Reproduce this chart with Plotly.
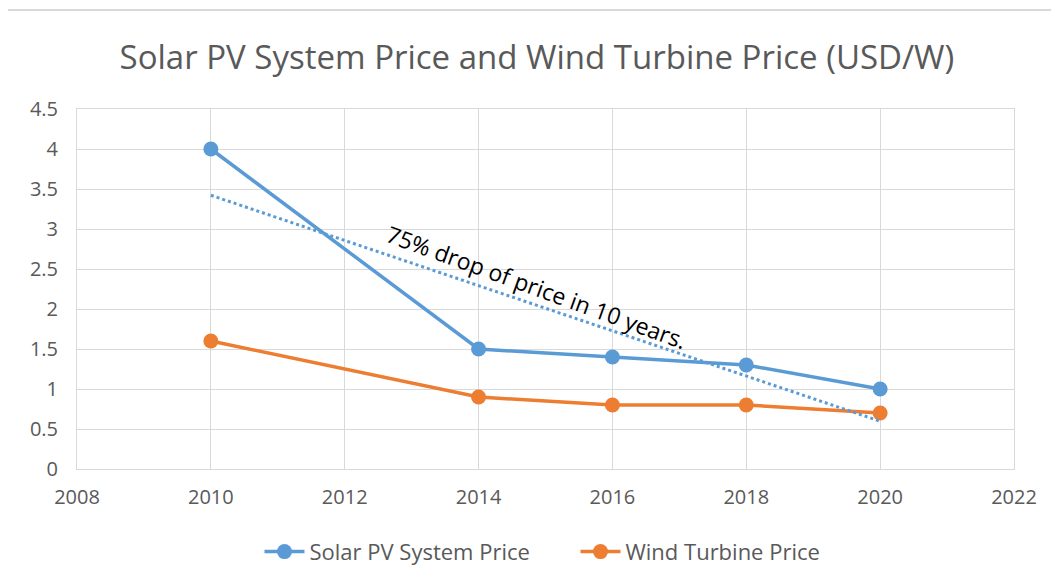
import numpy as np
import plotly.graph_objects as go

# données
years = [2010, 2014, 2016, 2018, 2020]
solar_price = [4.0, 1.5, 1.4, 1.3, 1.0]
wind_price = [1.6, 0.9, 0.8, 0.8, 0.7]
note = "75% drop of price in 10 years."

BLUE = "#5B9BD5"
ORANGE = "#ED7D31"
GREY = "#595959"

# tendance linéaire (comme la courbe de tendance Excel)
slope, intercept = np.polyfit(years, solar_price, 1)
trend_x = [years[0], years[-1]]
trend_y = [slope * x + intercept for x in trend_x]

fig = go.Figure()

fig.add_trace(go.Scatter(
    x=years, y=solar_price, mode="lines+markers", name="Solar PV System Price",
    line=dict(color=BLUE, width=3.5), marker=dict(size=15, color=BLUE),
))
fig.add_trace(go.Scatter(
    x=years, y=wind_price, mode="lines+markers", name="Wind Turbine Price",
    line=dict(color=ORANGE, width=3.5), marker=dict(size=15, color=ORANGE),
))
fig.add_trace(go.Scatter(
    x=trend_x, y=trend_y, mode="lines", showlegend=False, hoverinfo="skip",
    line=dict(color=BLUE, width=3, dash="dot"),
))

fig.add_annotation(
    x=2014.87, y=2.27, xref="x", yref="y", text=note, showarrow=False,
    textangle=20, font=dict(family="Open Sans", size=23, color="black"),
)

# cadre gris autour du graphique (coordonnées de l'écran -> paper)
fig.add_shape(type="rect", xref="paper", yref="paper",
              x0=(7 - 77) / 937, x1=(1080 - 77) / 937,
              y0=(469 - 610) / 360, y1=(469 - 10) / 360,
              line=dict(color="#D9D9D9", width=2), layer="below")

fig.update_layout(
    width=1059, height=586,
    margin=dict(l=69, r=53, t=101, b=125),
    paper_bgcolor="white", plot_bgcolor="white",
    font=dict(family="Open Sans", color=GREY),
    title=dict(text="Solar PV System Price and Wind Turbine Price (USD/W)",
               x=0.4995, xanchor="center", y=0.916, yanchor="middle",
               font=dict(family="Open Sans", size=33, color=GREY)),
    xaxis=dict(range=[2008, 2022], tickvals=list(range(2008, 2023, 2)),
               showgrid=True, gridcolor="#D9D9D9", gridwidth=1,
               showline=True, linecolor="#D9D9D9", mirror=True,
               zeroline=False, ticks="", ticklabelstandoff=10,
               tickfont=dict(size=20, color=GREY)),
    yaxis=dict(range=[0, 4.5], dtick=0.5,
               showgrid=True, gridcolor="#D9D9D9", gridwidth=1,
               showline=True, linecolor="#D9D9D9", mirror=True,
               zeroline=False, ticks="", ticklabelstandoff=14,
               tickfont=dict(size=20, color=GREY)),
    legend=dict(orientation="h", x=0.532, xanchor="center", y=-0.23, yanchor="middle",
                font=dict(size=22, color=GREY), itemwidth=40,
                entrywidth=261, entrywidthmode="pixels"),
)

fig.write_html("out.html")
